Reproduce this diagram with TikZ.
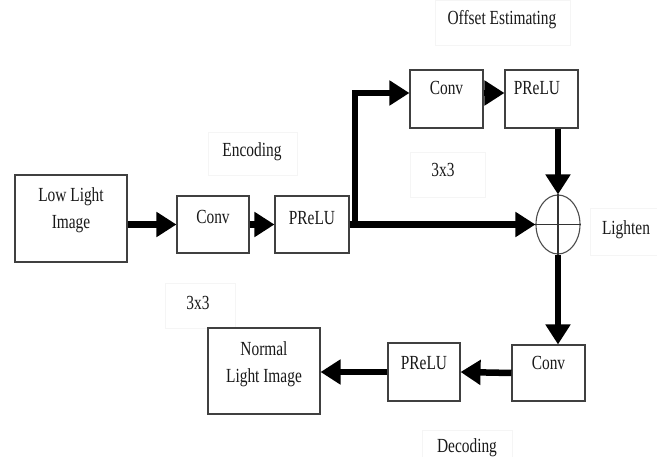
\documentclass[tikz,border=0pt]{standalone}
\usepackage{fontspec}
\setmainfont{Liberation Serif}[FakeStretch=0.77]
\usetikzlibrary{arrows.meta,shapes.geometric}

\tikzset{
  blk/.style={draw=black!75, line width=1.1pt, fill=white, inner sep=0pt},
  tag/.style={draw=black!4, line width=0.6pt, inner sep=0pt},
  txt/.style={inner sep=0pt, align=center,
    font=\fontsize{20}{27}\selectfont, text=black!90},
  flow/.style={line width=6.5pt, -{Triangle[length=20pt,width=24pt]}},
  summer/.style={ellipse, draw=black!70, line width=1.1pt, inner sep=0pt,
    minimum width=44pt, minimum height=59pt}
}

\begin{document}
\begin{tikzpicture}[x=1pt,y=-1pt]
\useasboundingbox (0,0) rectangle (657,457);
\fill[white] (0,0) rectangle (657,457);

% faint frames of the caption boxes
\node[tag, minimum width=135pt, minimum height=45pt] (fOff) at (502.5,22.5) {};
\node[tag, minimum width=89pt, minimum height=43pt] (fEnc) at (252.5,153.5) {};
\node[tag, minimum width=75pt, minimum height=45pt] (fK1) at (447.5,174.5) {};
\node[tag, minimum width=70pt, minimum height=45pt] (fK2) at (200,305.5) {};
\node[tag, minimum width=67pt, minimum height=47pt] (fLig) at (623.5,231.5) {};
\node[tag, minimum width=90pt, minimum height=30pt] (fDec) at (467,445) {};

% captions
\node[txt] (tOff) at (502,20) {Offset Estimating};
\node[txt] (tEnc) at (252,152) {Encoding};
\node[txt] (tK1) at (443,170) {3x3};
\node[txt] (tK2) at (198,303) {3x3};
\node[txt] (tLig) at (626,230) {Lighten};
\node[txt] (tDec) at (467,448) {Decoding};

% processing blocks
\node[blk, minimum width=112pt, minimum height=87pt] (lli) at (71,218.5) {};
\node[blk, minimum width=72pt, minimum height=57pt] (c1) at (213,224.5) {};
\node[blk, minimum width=74pt, minimum height=57pt] (p1) at (312,224.5) {};
\node[blk, minimum width=73pt, minimum height=58pt] (c2) at (446.5,99) {};
\node[blk, minimum width=73pt, minimum height=58pt] (p2) at (541.5,99) {};
\node[blk, minimum width=73pt, minimum height=56pt] (c3) at (548.5,373) {};
\node[blk, minimum width=72pt, minimum height=58pt] (p3) at (424,372) {};
\node[blk, minimum width=112pt, minimum height=86pt] (nli) at (264,371) {};

% block labels
\node[txt] (tlli) at (71,210.5) {Low Light\\Image};
\node[txt] (tc1) at (213,217) {Conv};
\node[txt] (tp1) at (312,218) {PReLU};
\node[txt] (tc2) at (446.5,88) {Conv};
\node[txt] (tp2) at (537,88) {PReLU};
\node[txt] (tc3) at (548.5,363) {Conv};
\node[txt] (tp3) at (424,363) {PReLU};
\node[txt] (tnli) at (264,364) {Normal\\Light Image};

% adder
\node[summer] (sum) at (558,224.5) {};
\draw[black!80, line width=1.1pt] (sum.north) -- (sum.south);
\draw[black!80, line width=1.1pt] (sum.west) -- (sum.east);

% encoding path
\draw[flow] (lli.east |- c1.west) -- (c1.west);
\draw[flow] (c1.east) -- (p1.west);
\draw[flow] (p1.east) -- (sum.west);

% offset-estimating branch
\coordinate (split) at (355,224.5);
\draw[flow] (split) |- ([yshift=6pt]c2.west);
\draw[flow] ([yshift=6pt]c2.east) -- ([yshift=6pt]p2.west);
\draw[flow] (sum.north |- p2.south) -- (sum.north);

% decoding path
\draw[flow] (sum.south) -- (sum.south |- c3.north);
\draw[flow] (c3.west) -- (p3.east);
\draw[flow] (p3.west) -- (nli.east |- p3.west);
\end{tikzpicture}
\end{document}
